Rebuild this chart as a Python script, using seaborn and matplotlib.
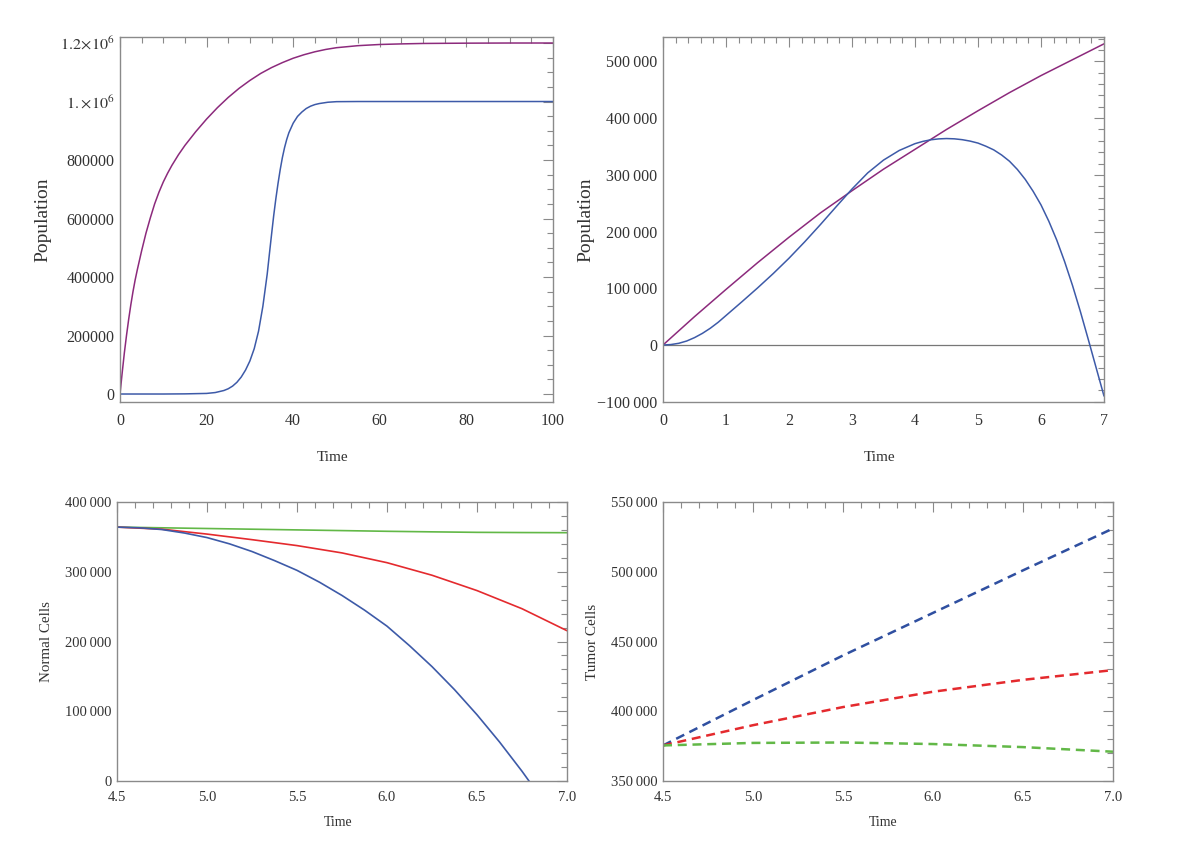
import numpy as np
import pandas as pd
import matplotlib
matplotlib.use("Agg")
import matplotlib.pyplot as plt
from matplotlib.ticker import MultipleLocator, FixedLocator, FuncFormatter
import seaborn as sns

# ---------------- data ----------------
# Panel A (top-left): long-run populations
tA_purple = [0, 0.5, 1, 1.5, 2, 2.5, 3, 3.5, 4, 5, 6, 7, 8, 9, 10, 11, 12, 13.5, 15, 17.5, 20,
             22.5, 25, 27.5, 30, 32.5, 35, 37.5, 40, 42.5, 45, 47.5, 50, 55, 60, 65, 70, 80, 90, 100]
yA_purple = [0, 72000, 140000, 200000, 255000, 305000, 350000, 390000, 425000, 490000, 550000,
             602000, 650000, 690000, 725000, 755000, 782000, 818000, 850000, 897000, 940000,
             979000, 1014000, 1045000, 1072000, 1096000, 1116000, 1133000, 1148000, 1160000,
             1170000, 1178000, 1184000, 1191000, 1195000, 1197000, 1198500, 1199500, 1200000,
             1200000]
tA_blue = [0, 10, 15, 20, 22, 24, 25, 26, 27, 28, 29, 30, 31, 32, 33, 34, 34.5, 35, 35.5, 36,
           36.5, 37, 37.5, 38, 38.5, 39, 40, 41, 42, 43, 44, 45, 46, 48, 50, 55, 100]
yA_blue = [0, 0, 500, 2000, 5000, 12000, 18000, 27000, 40000, 58000, 82000, 113000, 155000,
           215000, 300000, 410000, 478000, 545000, 610000, 668000, 720000, 767000, 808000,
           842000, 870000, 893000, 926000, 949000, 964000, 976000, 984000, 989500, 993000,
           997500, 999500, 1000000, 1000000]

# Panel B (top-right): 0..7
tB_purple = [0, 0.5, 1, 1.5, 2, 2.5, 3, 3.5, 4, 4.5, 5, 5.5, 6, 6.5, 7]
yB_purple = [0, 50000, 98000, 145000, 190000, 233000, 272000, 310000, 345000, 380000, 413000,
             445000, 475000, 503000, 531000]
tB_blue = [0, 0.125, 0.25, 0.375, 0.5, 0.625, 0.75, 0.875, 1.0, 1.25, 1.5, 1.75, 2.0, 2.25, 2.5,
           2.75, 3.0, 3.25, 3.5, 3.75, 4.0, 4.125, 4.25, 4.375, 4.5, 4.625, 4.75, 4.875, 5.0,
           5.125, 5.25, 5.375, 5.5, 5.625, 5.75, 5.875, 6.0, 6.125, 6.25, 6.375, 6.5, 6.625,
           6.75, 6.875, 7.0]
yB_blue = [0, 800, 3000, 7000, 13000, 20500, 29500, 40000, 52000, 76000, 100500, 126000, 153000,
           182000, 212500, 244000, 275000, 303500, 326000, 343000, 355000, 359000, 361800,
           363400, 364000, 363500, 362000, 359500, 356000, 350500, 344000, 335000, 324000,
           309500, 292000, 271000, 247000, 218000, 185000, 147000, 105000, 59000, 10000,
           -40000, -90000]

# Panel C (bottom-left): normal cells
tC = [4.5, 4.75, 5.0, 5.25, 5.5, 5.75, 6.0, 6.25, 6.5, 6.75, 7.0]
yC_green = [364000, 363000, 362000, 361000, 360000, 359000, 358000, 357200, 356500, 356200, 356000]
yC_red = [364000, 361000, 354000, 346000, 337500, 327000, 313000, 295000, 273000, 247000, 215500]
tC_blue = [4.5, 4.625, 4.75, 4.875, 5.0, 5.125, 5.25, 5.375, 5.5, 5.625, 5.75, 5.875, 6.0,
           6.125, 6.25, 6.375, 6.5, 6.625, 6.75, 6.875]
yC_blue = [364000, 363000, 360500, 355500, 349000, 340000, 329000, 316000, 302000, 285000,
           266000, 245000, 222000, 194000, 164000, 131000, 95000, 56000, 14000, -31000]

# Panel D (bottom-right): tumor cells
tD = [4.5, 5.0, 5.5, 6.0, 6.5, 7.0]
yD_blue = [375500, 408000, 440000, 470500, 501000, 531000]
yD_red = [375500, 390000, 403000, 414000, 422500, 429500]
yD_green = [375500, 377300, 377600, 376500, 374300, 371000]

# ---------------- style ----------------
sns.set_style("white")
plt.rcParams['font.family'] = ['Liberation Serif', 'DejaVu Serif']
plt.rcParams['mathtext.fontset'] = 'stix'

BLUE = "#3d5aa8"
PURPLE = "#8c2a7c"
RED = "#e42a2e"
GREEN = "#62b847"
FRAME = "#8a8a8a"
TXT = "#333333"

fig = plt.figure(figsize=(12, 8.59), dpi=100)
axA = fig.add_axes([0.1, 0.532, 0.3608, 0.4249])
axB = fig.add_axes([0.5525, 0.532, 0.3675, 0.4249])
axC = fig.add_axes([0.0975, 0.0908, 0.375, 0.3248])
axD = fig.add_axes([0.5525, 0.0908, 0.375, 0.3248])


def frame(ax, labelsize, xpad, ypad):
    for s in ax.spines.values():
        s.set_color(FRAME)
        s.set_linewidth(1.0)
    ax.tick_params(which='both', direction='in', top=True, right=True, color=FRAME,
                   labelcolor=TXT, width=0.8)
    ax.tick_params(which='major', length=7, labelsize=labelsize)
    ax.tick_params(which='minor', length=4)
    ax.tick_params(axis='x', which='major', pad=xpad)
    ax.tick_params(axis='y', which='major', pad=ypad)


def grp(v, pos=None):
    s = f"{int(round(v)):d}"
    neg = s.startswith('-')
    s = s.lstrip('-')
    if len(s) > 3:
        s = s[:-3] + "\u2009" + s[-3:]
    return ("\u2212" if neg else "") + s


# ---- Panel A ----
sns.lineplot(x=tA_purple, y=yA_purple, ax=axA, color=PURPLE, lw=1.1, estimator=None, sort=False)
sns.lineplot(x=tA_blue, y=yA_blue, ax=axA, color=BLUE, lw=1.1, estimator=None, sort=False)
axA.set_xlim(0, 100)
axA.set_ylim(-27350, 1220500)
axA.xaxis.set_major_locator(MultipleLocator(20))
axA.xaxis.set_minor_locator(MultipleLocator(5))
axA.yaxis.set_major_locator(FixedLocator([0, 200000, 400000, 600000, 800000, 1000000, 1200000]))
axA.yaxis.set_minor_locator(MultipleLocator(50000))
labA = {1000000: r"$1.\!\times\!10^{6}$", 1200000: r"$1.2\!\times\!10^{6}$"}
axA.yaxis.set_major_formatter(FuncFormatter(lambda v, p: labA.get(int(round(v)), f"{int(round(v))}")))
frame(axA, 11.5, 8, 4)

# ---- Panel B ----
axB.axhline(0, color="#777777", lw=0.9)
sns.lineplot(x=tB_purple, y=yB_purple, ax=axB, color=PURPLE, lw=1.1, estimator=None, sort=False)
sns.lineplot(x=tB_blue, y=yB_blue, ax=axB, color=BLUE, lw=1.1, estimator=None, sort=False)
axB.set_xlim(0, 7)
axB.set_ylim(-100500, 543000)
axB.xaxis.set_major_locator(MultipleLocator(1))
axB.xaxis.set_minor_locator(MultipleLocator(0.2))
axB.yaxis.set_major_locator(MultipleLocator(100000))
axB.yaxis.set_minor_locator(MultipleLocator(20000))
axB.yaxis.set_major_formatter(FuncFormatter(grp))
frame(axB, 11.5, 8, 4)

# ---- Panel C ----
sns.lineplot(x=tC, y=yC_green, ax=axC, color=GREEN, lw=1.2, estimator=None, sort=False)
sns.lineplot(x=tC, y=yC_red, ax=axC, color=RED, lw=1.2, estimator=None, sort=False)
sns.lineplot(x=tC_blue, y=yC_blue, ax=axC, color=BLUE, lw=1.2, estimator=None, sort=False)
axC.set_xlim(4.5, 7.0)
axC.set_ylim(0, 400000)
axC.xaxis.set_major_locator(MultipleLocator(0.5))
axC.xaxis.set_minor_locator(MultipleLocator(0.1))
axC.xaxis.set_major_formatter(FuncFormatter(lambda v, p: f"{v:.1f}"))
axC.yaxis.set_major_locator(MultipleLocator(100000))
axC.yaxis.set_minor_locator(MultipleLocator(20000))
axC.yaxis.set_major_formatter(FuncFormatter(grp))
frame(axC, 10.5, 7, 4)

# ---- Panel D ----
dash = (3.6, 2.3)
for yy, cc in [(yD_blue, "#2f4fa0"), (yD_red, RED), (yD_green, GREEN)]:
    sns.lineplot(x=tD, y=yy, ax=axD, color=cc, lw=1.8, estimator=None, sort=False,
                 dashes=False).lines[-1].set_dashes(dash)
axD.set_xlim(4.5, 7.0)
axD.set_ylim(350000, 550000)
axD.xaxis.set_major_locator(MultipleLocator(0.5))
axD.xaxis.set_minor_locator(MultipleLocator(0.1))
axD.xaxis.set_major_formatter(FuncFormatter(lambda v, p: f"{v:.1f}"))
axD.yaxis.set_major_locator(MultipleLocator(50000))
axD.yaxis.set_minor_locator(MultipleLocator(10000))
axD.yaxis.set_major_formatter(FuncFormatter(grp))
frame(axD, 10.5, 7, 4)

# ---- axis labels ----
def labels(ax, ylab, yx, xx, xy, ysize, xsize):
    ax.set_ylabel(ylab, fontsize=ysize, color=TXT, rotation=90, va='center', ha='center')
    ax.yaxis.set_label_coords(yx, 0.5)
    ax.set_xlabel("Time", fontsize=xsize, color=TXT, va='center', ha='center')
    ax.xaxis.set_label_coords(xx, xy)

labels(axA, "Population", -0.178, 0.492, -0.153, 14, 11)
labels(axB, "Population", -0.175, 0.492, -0.153, 14, 11)
labels(axC, "Normal Cells", -0.156, 0.491, -0.15, 10.8, 10)
labels(axD, "Tumor Cells", -0.156, 0.489, -0.15, 11, 10)

fig.savefig("out.png", dpi=100, facecolor="white")
